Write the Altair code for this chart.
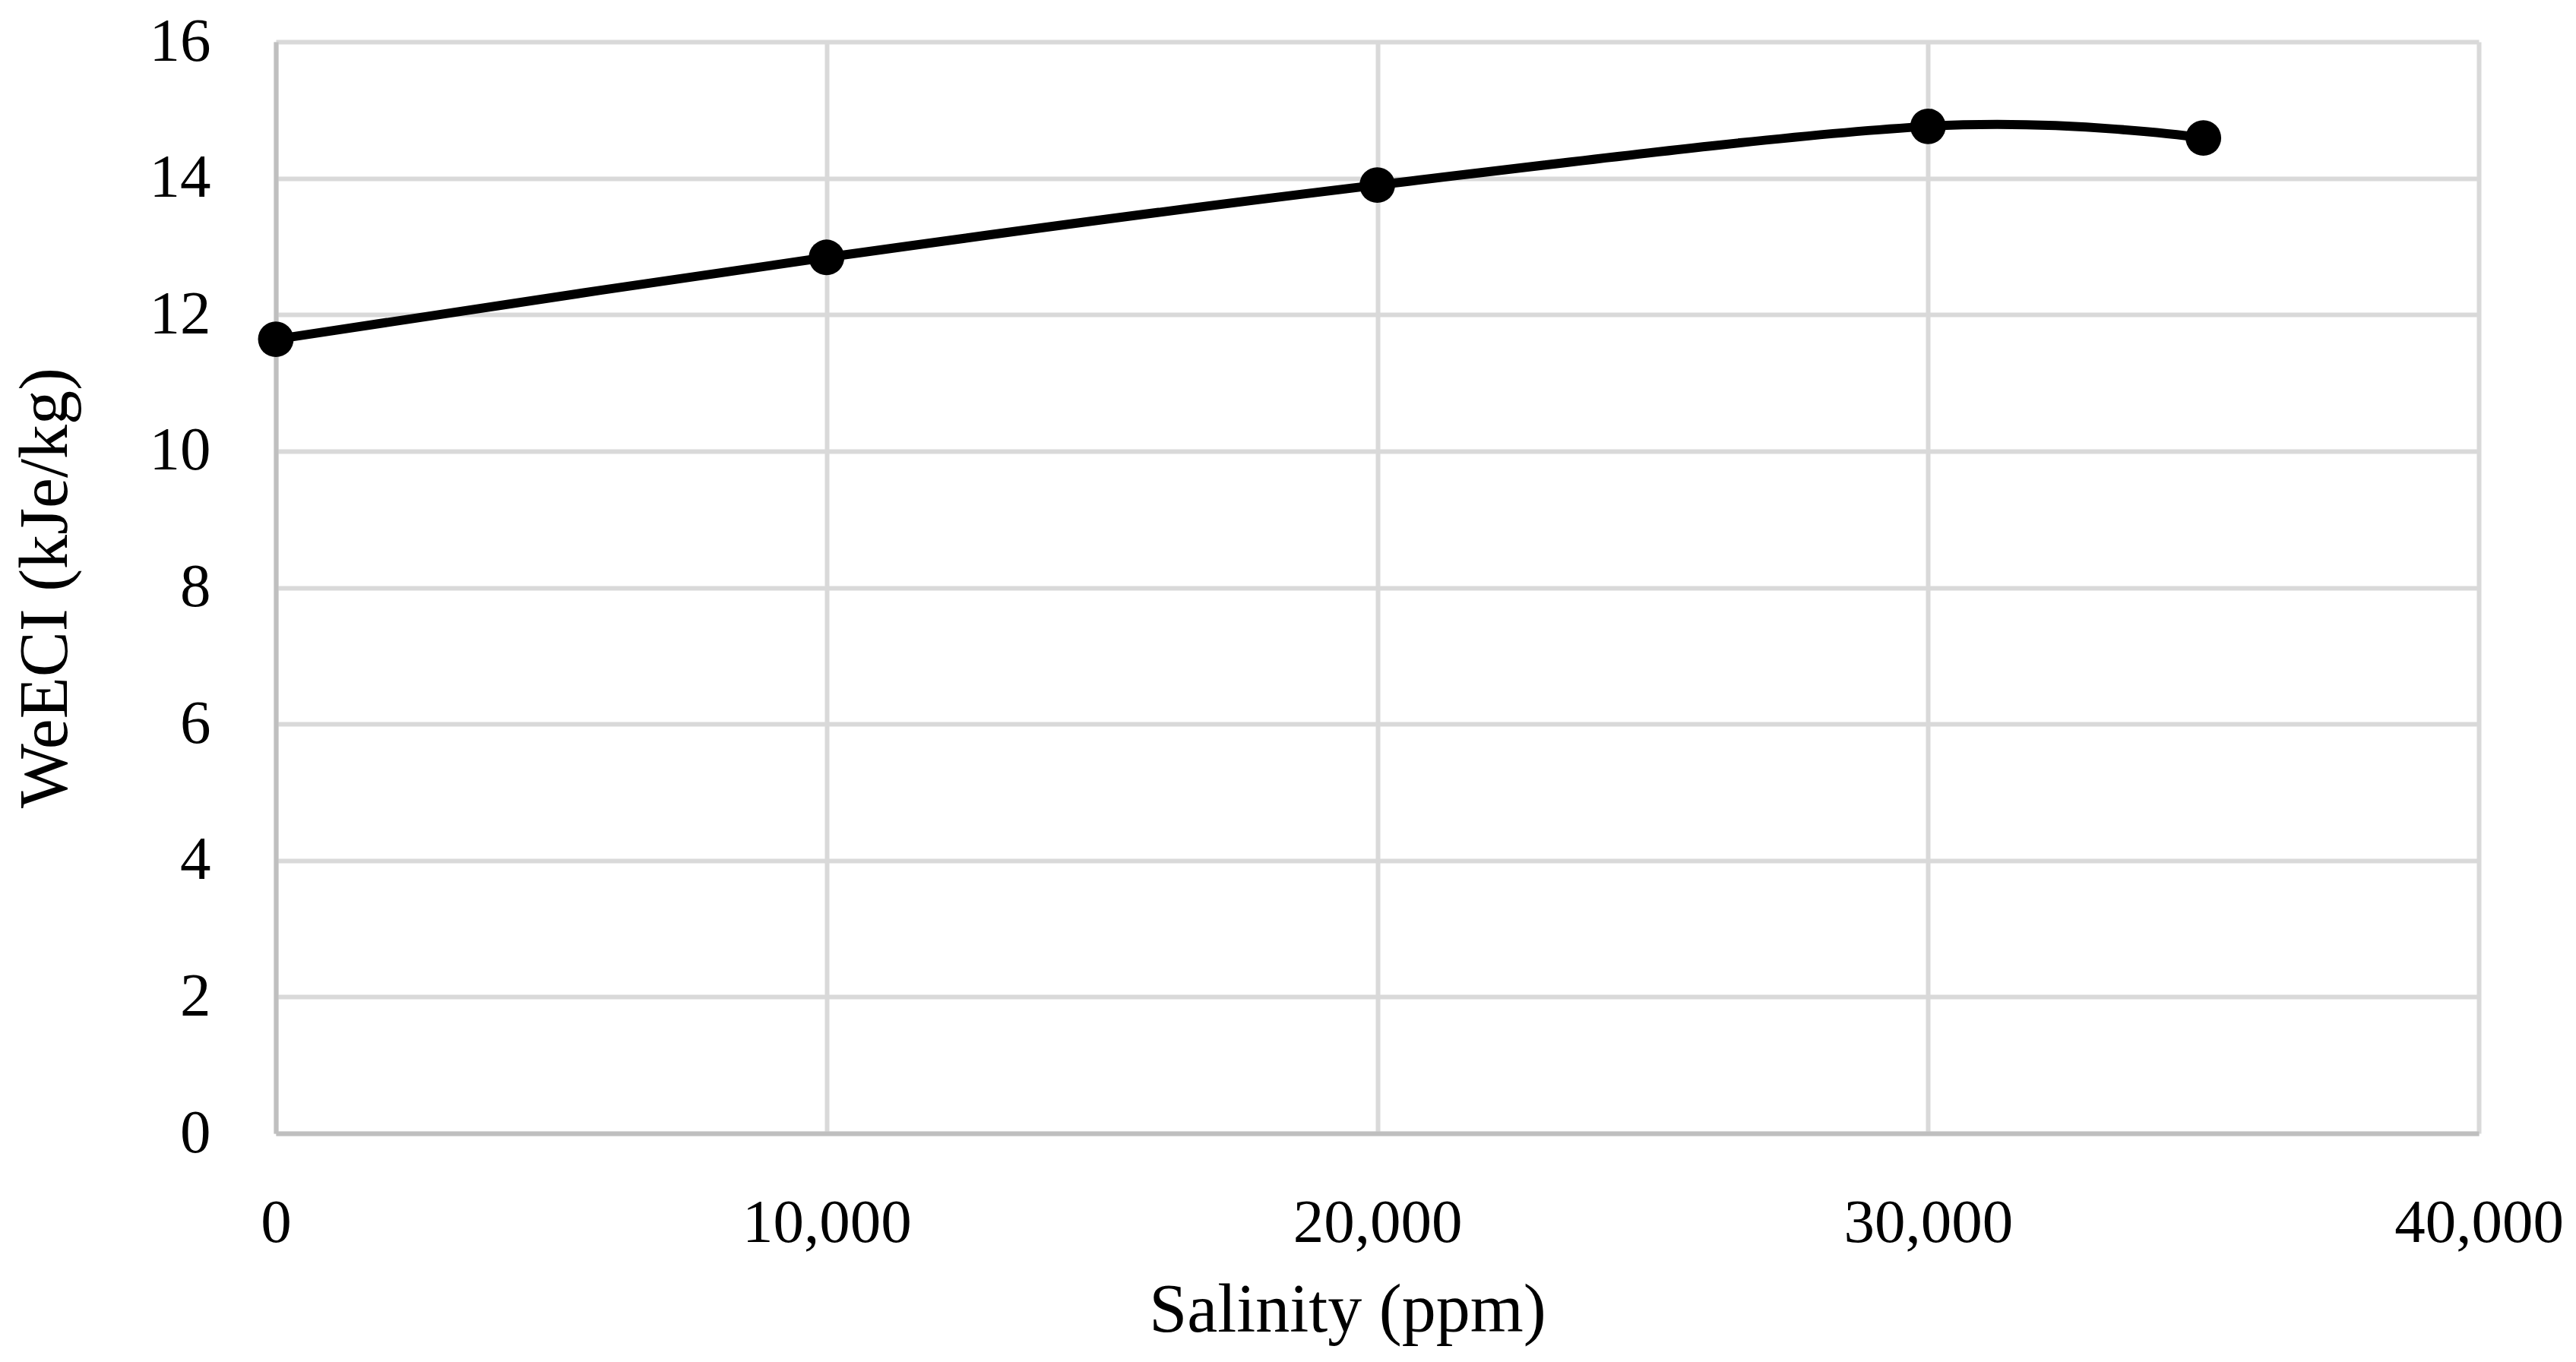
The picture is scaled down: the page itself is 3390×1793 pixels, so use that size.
import altair as alt
import pandas as pd

salinity = [0, 10000, 20000, 30000, 35000]
weeci = [11.64, 12.84, 13.9, 14.76, 14.59]

x_ticks = [0, 10000, 20000, 30000, 40000]
y_ticks = [0, 2, 4, 6, 8, 10, 12, 14, 16]

df = pd.DataFrame({"Salinity": salinity, "WeECI": weeci})

FONT = "Liberation Serif"
W, H = 2899, 1437

x_enc = alt.X(
    "Salinity:Q",
    scale=alt.Scale(domain=[0, 40000], nice=False, zero=True),
    axis=alt.Axis(
        values=x_ticks,
        format=",.0f",
        title="Salinity (ppm)",
        grid=True,
        gridColor="#d9d9d9",
        gridWidth=6,
        domainColor="#bfbfbf",
        domainWidth=6,
        ticks=False,
        tickSize=0,
        labelFont=FONT,
        labelFontSize=81,
        labelColor="#000000",
        labelBaseline="middle",
        labelPadding=118,
        labelFlush=False,
        labelOverlap=False,
        labelLimit=1000,
        titleFont=FONT,
        titleFontSize=90,
        titleFontWeight="normal",
        titleColor="#000000",
        titleBaseline="alphabetic",
        titleAlign="center",
        titleLimit=2000,
        titleX=1410,
        titleY=260,
    ),
)

y_enc = alt.Y(
    "WeECI:Q",
    scale=alt.Scale(domain=[0, 16], nice=False, zero=True),
    axis=alt.Axis(
        values=y_ticks,
        format=".0f",
        title="WeECI (kJe/kg)",
        grid=True,
        gridColor="#d9d9d9",
        gridWidth=6,
        domainColor="#bfbfbf",
        domainWidth=6,
        ticks=False,
        tickSize=0,
        labelFont=FONT,
        labelFontSize=81,
        labelColor="#000000",
        labelBaseline="middle",
        labelAlign="right",
        labelPadding=86,
        labelOverlap=False,
        labelLimit=1000,
        titleFont=FONT,
        titleFontSize=90,
        titleFontWeight="normal",
        titleColor="#000000",
        titleBaseline="alphabetic",
        titleAlign="center",
        titleAngle=270,
        titleLimit=2000,
        titleX=-276,
        titleY=H / 2,
    ),
)

base = alt.Chart(df)

line = base.mark_line(
    color="#000000", strokeWidth=12, interpolate="cardinal", tension=0
).encode(x=x_enc, y=y_enc)

points = base.mark_point(
    shape="circle", filled=True, color="#000000", opacity=1, size=2200
).encode(x="Salinity:Q", y="WeECI:Q")

chart = (
    alt.layer(line, points)
    .properties(
        width=W,
        height=H,
        autosize=alt.AutoSizeParams(type="none"),
        padding={"left": 355, "top": 47, "right": 118, "bottom": 285},
        background="#ffffff",
    )
    .configure_view(strokeWidth=0)
)

chart.save("out.html", embed_options={"renderer": "svg", "actions": False})
